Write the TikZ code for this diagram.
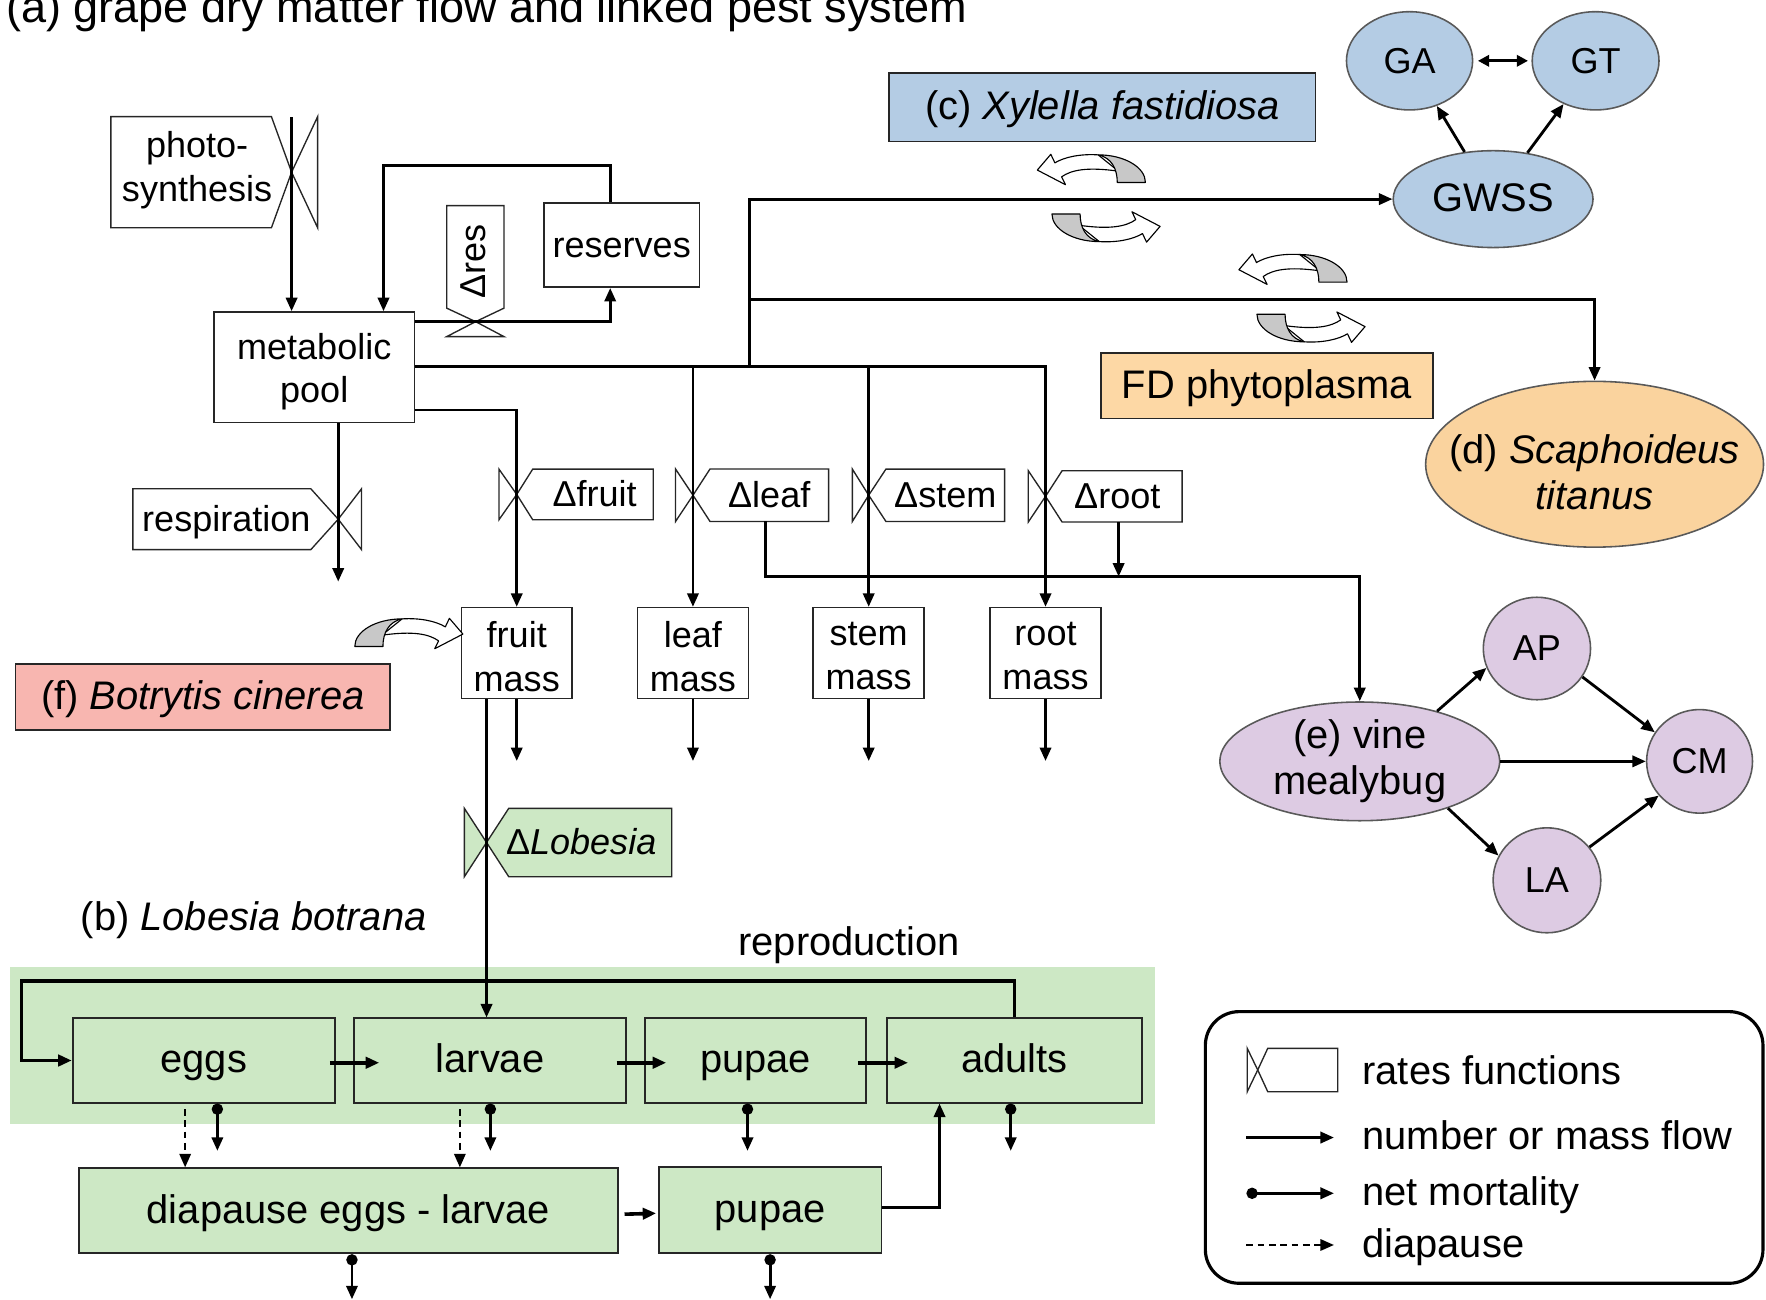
\documentclass[tikz,border=0pt]{standalone}
\usepackage{fontspec}
\setmainfont{Liberation Sans}
\usetikzlibrary{arrows.meta,shapes.geometric,calc}

\definecolor{xyblue}{HTML}{B4CCE4}
\definecolor{fdorange}{HTML}{FDD8A5}
\definecolor{stellipse}{HTML}{FAD39E}
\definecolor{botpink}{HTML}{F8B6B0}
\definecolor{lobgreen}{HTML}{CDE8C5}
\definecolor{mblilac}{HTML}{DDCBE3}
\definecolor{swirlgray}{HTML}{C8C8C8}

% rectangular node from its corners: [style]{name}{x1}{y1}{x2}{y2}{text}
\newcommand\rbox[7][]{%
  \pgfmathsetmacro\rbW{(#5-#3)*0.5}%
  \pgfmathsetmacro\rbH{(#6-#4)*0.5}%
  \node[#1, minimum width=\rbW pt, minimum height=\rbH pt, inner sep=0pt] (#2) at ({(#3+#5)/2},{(#4+#6)/2}) {#7};}
% elliptic node from centre and radii: [style]{name}{cx}{cy}{rx}{ry}{text offset}{text}
\newcommand\ebox[8][]{%
  \node[ellipse, #1, minimum width=#5 pt, minimum height=#6 pt, inner sep=0pt] (#2) at (#3,#4) {};
  \node[align=center, #1, draw=none, fill=none] (#2-text) at ($(#2)+(0,#7)$) {#8};}

\tikzset{
  plant/.style={font=\fontsize{16}{19.5}\selectfont},
  big/.style={font=\fontsize{17.7}{20.5}\selectfont},
  sl/.style={text height=12pt, text depth=1pt},
  box/.style={draw=black!85, line width=0.7pt, fill=white, align=center},
  lbox/.style={draw=black!85, line width=0.8pt, fill=lobgreen, align=center, big, sl},
  pestell/.style={draw=black!65, line width=0.7pt},
  ratebox/.style={draw=black!85, line width=0.6pt, fill=white, line join=miter},
  rateval/.style={draw=black!85, line width=0.6pt},
  tip/.tip={Triangle[length=6pt,width=5pt]},
  flow/.style={line width=1.25pt, -tip},
  lflow/.style={line width=1.6pt, -tip},
  mort/.style={line width=1.25pt, {Circle[length=5pt,width=5pt]}-tip},
  dia/.style={line width=1pt, dash pattern=on 3pt off 2pt, -tip},
  cyclearrow/.pic={
    \filldraw[fill=white, draw=black, line width=0.5pt, line join=round]
      (0,-24.5) .. controls (-16,-25.5) and (-30,-22.5) .. (-38.4,-17.4)
      -- (-42,-25) -- (-54,-11) -- (-29,2) -- (-32.4,-5)
      .. controls (-24,-11) and (-10,-14) .. (18,-10) -- cycle;
    \filldraw[fill=swirlgray, draw=black, line width=0.5pt, line join=round]
      (0,-24.5) arc[start angle=-90, end angle=0, x radius=42, y radius=24.5]
      -- (17,0) .. controls (17,-12) and (12,-22) .. (0,-24.5) -- cycle;
  }
}

\begin{document}
\begin{tikzpicture}[x=0.5pt, y=-0.5pt]
\useasboundingbox (0,0) rectangle (1568,1154);

% title (runs off the top edge)
\node[anchor=base west, inner sep=0pt, font=\fontsize{20}{24}\selectfont] (title) at (5,20)
  {(a) grape dry matter flow and linked pest system};

% ---------- Lobesia background band ----------
\fill[lobgreen] (8.8,858.9) rectangle (1025.7,998);

% ---------- rate functions ----------
% photosynthesis
\draw[ratebox] (98.4,103.6) -- (241,103.6) -- (258.9,152.9) -- (241,202.2) -- (98.4,202.2) -- cycle;
\draw[rateval] (258.9,152.9) -- (282,103.6) -- (282,202.2) -- cycle;
\node[plant, align=center] (photot) at (175,151) {photo-\\synthesis};
% respiration
\draw[ratebox] (118,434) -- (276,434) -- (300.3,461) -- (276,488) -- (118,488) -- cycle;
\draw[rateval] (300.3,461) -- (321,434) -- (321,488) -- cycle;
\node[plant, sl] (respt) at (201,461) {respiration};
% reserves rate
\draw[ratebox] (396.6,182.6) -- (447.5,182.6) -- (447.5,273.6) -- (422.3,285.6) -- (396.6,273.6) -- cycle;
\draw[rateval] (422.3,285.6) -- (396.6,298.9) -- (447.5,298.9) -- cycle;
\node[plant, rotate=90] (drest) at (420,232) {Δres};
% organ rates
\draw[ratebox] (473,416.5) -- (580,416.5) -- (580,461.5) -- (473,461.5) -- (458.8,439) -- cycle;
\draw[rateval] (458.8,439) -- (443,416.5) -- (443,461.5) -- cycle;
\node[plant, sl] (dfruitt) at (528,439) {Δfruit};
\draw[ratebox] (630.4,416.4) -- (735.7,416.4) -- (735.7,463) -- (630.4,463) -- (615.3,439.7) -- cycle;
\draw[rateval] (615.3,439.7) -- (599.8,416.4) -- (599.8,463) -- cycle;
\node[plant, sl] (dleaft) at (683,439.7) {Δleaf};
\draw[ratebox] (786.6,416.5) -- (892,416.5) -- (892,463) -- (786.6,463) -- (771.3,439.7) -- cycle;
\draw[rateval] (771.3,439.7) -- (756.8,416.5) -- (756.8,463) -- cycle;
\node[plant, sl] (dstemt) at (839.3,439.7) {Δstem};
\draw[ratebox] (943,418) -- (1049.6,418) -- (1049.6,463.5) -- (943,463.5) -- (928.3,440.7) -- cycle;
\draw[rateval] (928.3,440.7) -- (913,418) -- (913,463.5) -- cycle;
\node[plant, sl] (droott) at (992,440.7) {Δroot};
% Lobesia rate
\draw[ratebox, fill=lobgreen] (451.7,717.7) -- (596.4,717.7) -- (596.4,778.4) -- (451.7,778.4) -- (432,748) -- cycle;
\draw[rateval, fill=lobgreen] (432,748) -- (412.3,717.7) -- (412.3,778.4) -- cycle;
\node[plant, sl] (dlobt) at (516,748) {Δ\textit{Lobesia}};

% ---------- grape nodes ----------
\rbox[box,plant]{pool}{190}{277}{368}{375}{}
\node[plant, align=center] (pool-text) at ($(pool)+(0,4)$) {metabolic\\pool};
\rbox[box,plant,sl]{res}{483}{180}{621}{255}{reserves}
\rbox[box,plant]{fruitm}{409.6}{539.5}{508}{620}{}
\rbox[box,plant]{leafm}{566}{539.5}{664.5}{620}{}
\rbox[box,plant]{stemm}{722}{539.5}{820.6}{620}{}
\rbox[box,plant]{rootm}{879}{539.5}{977.6}{620}{}
\foreach \m/\w in {fruitm/fruit,leafm/leaf,stemm/stem,rootm/root}
  \node[plant, align=center] (\m-text) at ($(\m)+(0,3)$) {\w\\mass};

% ---------- pest nodes ----------
\rbox[box,big,sl,fill=xyblue]{xyl}{789.4}{65}{1168}{125.6}{(c) \textit{Xylella fastidiosa}}
\rbox[box,big,sl,fill=fdorange]{fd}{977.7}{313.3}{1272.3}{371.6}{FD phytoplasma}
\rbox[box,big,sl,fill=botpink]{bot}{13.6}{589.8}{346.5}{648}{(f) \textit{Botrytis cinerea}}

\ebox[pestell,plant,sl,fill=xyblue]{ga}{1251.5}{54}{56}{43.6}{0}{GA}
\ebox[pestell,plant,sl,fill=xyblue]{gt}{1416.7}{54}{56.3}{43.6}{0}{GT}
\ebox[pestell,big,sl,fill=xyblue]{gwss}{1325.7}{176.8}{88.7}{43}{0}{GWSS}
\ebox[pestell,big,fill=stellipse]{scaph}{1415.8}{412.2}{150}{73.6}{7}{(d) \textit{Scaphoideus}\\\textit{titanus}}
\ebox[pestell,big,fill=mblilac]{mealy}{1207.3}{676}{124.2}{52.7}{0}{(e) vine\\mealybug}
\ebox[pestell,plant,sl,fill=mblilac]{ap}{1364.6}{575.8}{47.6}{45.5}{0}{AP}
\ebox[pestell,plant,sl,fill=mblilac]{cm}{1509}{676}{47}{46}{0}{CM}
\ebox[pestell,plant,sl,fill=mblilac]{la}{1373.5}{781.6}{47.8}{46.6}{0}{LA}

% ---------- Lobesia stages ----------
\rbox[lbox]{eggs}{64.5}{904.2}{297.5}{979}{eggs}
\rbox[lbox]{larvae}{314.5}{904.2}{555.7}{979}{larvae}
\rbox[lbox]{pupae}{572.7}{904.2}{769}{979}{pupae}
\rbox[lbox]{adults}{787.3}{904.2}{1014.2}{979}{adults}
\rbox[lbox]{diap}{70}{1037.3}{548.9}{1112.8}{diapause eggs - larvae}
\rbox[lbox]{pupae2}{584.9}{1035.8}{782.6}{1112.8}{pupae}
\node[big, sl, anchor=west, inner sep=0pt] (lobt) at (71.3,815.4) {(b) \textit{Lobesia botrana}};
\node[big, sl] (reprot) at (754,837.5) {reproduction};

% ---------- dry matter flows ----------
\coordinate (phsrc) at (258.9,104);
\draw[flow] (phsrc) -- (phsrc |- pool.north);
\coordinate (resvalve) at (422.3,285.6);
\draw[flow] (pool.east |- resvalve) -| ($(res.south)+(-10.2,0)$);
\coordinate (resup) at (541.8,147.1);
\coordinate (poolin) at (340.5,147.1);
\draw[flow] (resup |- res.north) -- (resup) -- (poolin) -- (poolin |- pool.north);

\coordinate (split) at (665.1,325.6);
\draw[flow] (pool.east |- split) -| (rootm.north);
\draw[flow] (leafm.north |- split) -- (leafm.north);
\draw[flow] (stemm.north |- split) -- (stemm.north);
\draw[flow] (split) |- (gwss.west);
\coordinate (stbranch) at (665.1,265.7);
\draw[flow] (stbranch) -| (scaph.north);

\coordinate (fruitlvl) at (0,364);
\draw[flow] (pool.east |- fruitlvl) -| (fruitm.north);

\coordinate (respout) at (300.3,516.4);
\draw[flow] (respout |- pool.south) -- (respout);

\coordinate (leafrate) at (680,463);
\coordinate (rootrate) at (993.2,463.5);
\coordinate (mbline) at (0,512);
\draw[flow] (leafrate) -- (leafrate |- mbline) -| (mealy.north);
\draw[flow] (rootrate) -- (rootrate |- mbline);

\foreach \m in {fruitm,leafm,stemm,rootm}
  \draw[flow] (\m.south) -- ++(0,55);

\coordinate (lobx) at (432,0);
\draw[flow] (fruitm.south -| lobx) -- (lobx |- larvae.north);

% ---------- pest links ----------
\draw[line width=1.25pt, {Triangle[length=5pt,width=5pt]}-{Triangle[length=5pt,width=5pt]},
      shorten <=2pt, shorten >=1.5pt] (ga) -- (gt);
\draw[flow] (gwss) -- (ga);
\draw[flow] (gwss) -- (gt);
\draw[flow] (mealy.33) -- (ap.201);
\draw[flow] (ap.-32) -- (cm.147);
\draw[flow] (mealy.east) -- (cm.west);
\draw[flow] (mealy.-28) -- (la.153);
\draw[flow] (la.38) -- (cm.220);

% ---------- Lobesia flows ----------
\coordinate (reprotop) at (19,871);
\draw[lflow] (adults.north) |- (reprotop) |- (eggs.west);
\draw[lflow] ($(eggs.east)+(-5.5,2)$) -- ($(larvae.west)+(23,2)$);
\draw[lflow] ($(larvae.east)+(-9,2)$) -- ($(pupae.west)+(19.6,2)$);
\draw[lflow] ($(pupae.east)+(-8.2,2)$) -- ($(adults.west)+(19.7,2)$);
\draw[lflow] ($(diap.east)+(4.8,3)$) -- ($(pupae2.west)+(-1.5,3)$);
\coordinate (adin) at (834.2,0);
\draw[flow] ($(pupae2.east)+(0,-2)$) -| (adults.south -| adin);

\draw[mort] (eggs.south -| 193,0) -- ++(0,42);
\draw[mort] (larvae.south -| 435.4,0) -- ++(0,42);
\draw[mort] (pupae.south -| 663.7,0) -- ++(0,42);
\draw[mort] (adults.south -| 897.4,0) -- ++(0,42);
\draw[mort] (diap.south -| 312.5,0) -- ++(0,40);
\draw[mort] (pupae2.south) -- ++(0,40);

\draw[dia] ($(eggs.south -| 164.4,0)+(0,5)$) -- (diap.north -| 164.4,0);
\draw[dia] ($(larvae.south -| 408.3,0)+(0,5)$) -- (diap.north -| 408.3,0);

% ---------- exchange arrows ----------
\path (975,162) pic {cyclearrow};
\path (976,190) pic[rotate=180] {cyclearrow};
\path (1154,250.5) pic {cyclearrow};
\path (1158,279) pic[rotate=180] {cyclearrow};
\path (357,574) pic[xscale=-1] {cyclearrow};

% ---------- legend ----------
\rbox[draw=black, line width=1.4pt, rounded corners=15pt]{legend}{1070.2}{898.2}{1565.3}{1139.4}{}
\draw[ratebox] (1125.6,930.8) -- (1187.7,930.8) -- (1187.7,969.3) -- (1125.6,969.3) -- (1116.7,950) -- cycle;
\draw[rateval] (1116.7,950) -- (1107.4,930.8) -- (1107.4,969.3) -- cycle;
\coordinate (lga) at (1106.7,1010);
\coordinate (lgb) at (1184.4,1010);
\draw[flow] (lga) -- (lgb);
\draw[mort] ($(lga)+(0,49.5)$) -- ($(lgb)+(0,49.5)$);
\draw[dia] ($(lga)+(0,95.4)$) -- ($(lgb)+(0,95.4)$);
\node[big, sl, anchor=west, inner sep=0pt] (lg1) at (1209.3,951.5) {rates functions};
\node[big, sl, anchor=west, inner sep=0pt] (lg2) at (1209.3,1010) {number or mass flow};
\node[big, sl, anchor=west, inner sep=0pt] (lg3) at (1209.3,1059.5) {net mortality};
\node[big, sl, anchor=west, inner sep=0pt] (lg4) at (1209.3,1105.4) {diapause};
\end{tikzpicture}
\end{document}
